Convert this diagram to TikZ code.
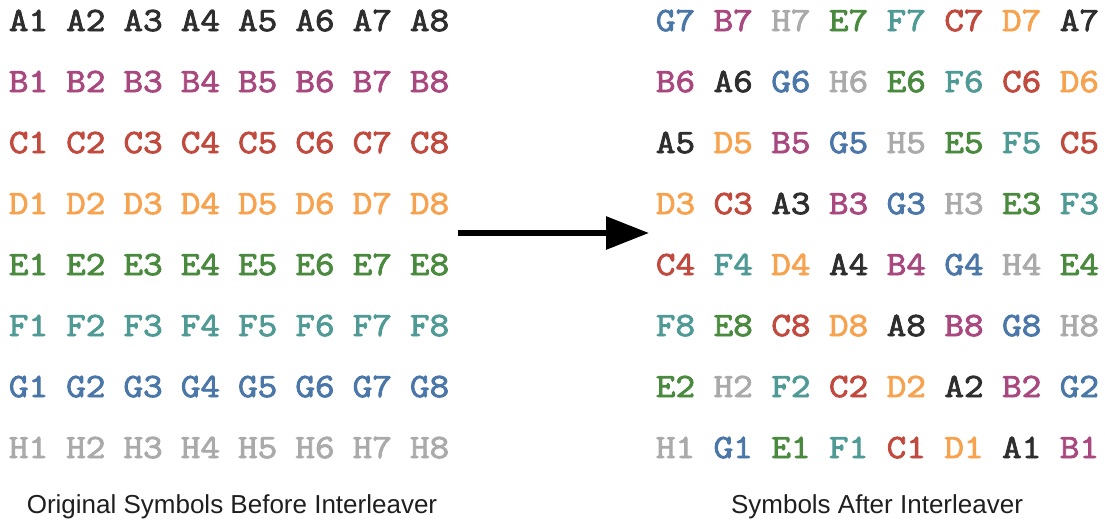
\documentclass[tikz,border=0pt]{standalone}
\usepackage{fontspec}
\setmainfont{Liberation Sans}
\newfontfamily\symfont{Latin Modern Mono}[FakeBold=2.6, FakeStretch=1.12]
\usetikzlibrary{arrows.meta}
\definecolor{colA}{HTML}{2E2E2E}
\definecolor{colB}{HTML}{A8487F}
\definecolor{colC}{HTML}{C04A3E}
\definecolor{colD}{HTML}{F7A24F}
\definecolor{colE}{HTML}{4A8A3E}
\definecolor{colF}{HTML}{4F9A95}
\definecolor{colG}{HTML}{4A76A8}
\definecolor{colH}{HTML}{AAAAAA}
% first character of a symbol name, used to pick its colour
\def\symletter#1#2\relax{#1}
\tikzset{
  sym/.style={font=\symfont\fontsize{34}{34}\selectfont, inner sep=0pt, anchor=base, text=col#1},
  caption/.style={font=\fontsize{26}{26}\selectfont, text=black!88, inner sep=0pt},
  bigarrow/.style={line width=6pt, -{Triangle[length=43pt,width=32pt]}}
}
\begin{document}
\begin{tikzpicture}[x=1pt,y=-1pt]
\useasboundingbox (0,0) rectangle (1105,525);
% original symbols, one row per letter
\foreach \L [count=\r] in {A,B,C,D,E,F,G,H}{
  \foreach \n in {1,...,8}{
    \node[sym=\L] (l-\r-\n) at ({28.5+57.3*(\n-1)}, {31+61*(\r-1)}) {\L\n};
  }
}
% symbols after the interleaver
\foreach \rowlist [count=\r] in {
  {G7,B7,H7,E7,F7,C7,D7,A7},
  {B6,A6,G6,H6,E6,F6,C6,D6},
  {A5,D5,B5,G5,H5,E5,F5,C5},
  {D3,C3,A3,B3,G3,H3,E3,F3},
  {C4,F4,D4,A4,B4,G4,H4,E4},
  {F8,E8,C8,D8,A8,B8,G8,H8},
  {E2,H2,F2,C2,D2,A2,B2,G2},
  {H1,G1,E1,F1,C1,D1,A1,B1}}{
  \foreach \s [count=\c] in \rowlist {
    \edef\lt{\expandafter\symletter\s\relax}
    \node[sym=\lt] (r-\r-\c) at ({675.5+57.7*(\c-1)}, {31+61*(\r-1)}) {\s};
  }
}
\node[caption] (capL) at (232,507) {Original Symbols Before Interleaver};
\node[caption] (capR) at (877,507) {Symbols After Interleaver};
\coordinate (arrS) at (458,233);
\coordinate (arrE) at (649,233);
\draw[bigarrow] (arrS) -- (arrE);
\end{tikzpicture}
\end{document}
